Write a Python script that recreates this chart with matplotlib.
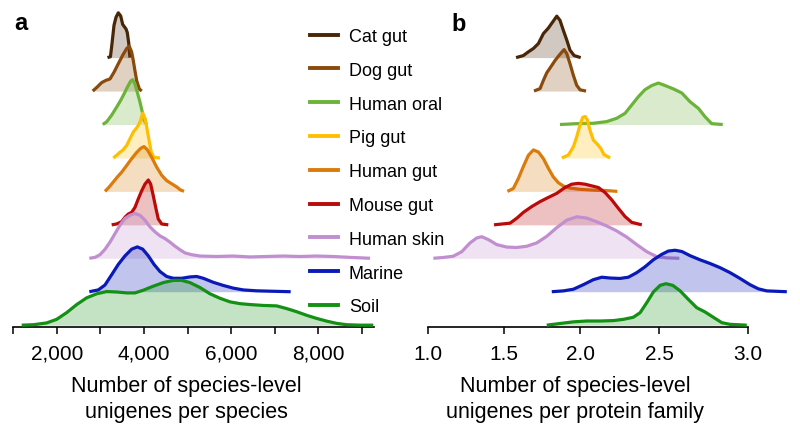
import matplotlib
matplotlib.use("Agg")
import matplotlib.pyplot as plt
import numpy as np
from matplotlib.lines import Line2D
from matplotlib.ticker import FixedLocator, FixedFormatter

plt.rcParams["font.family"] = ["Liberation Sans", "DejaVu Sans"]

# =========================
# data (ridge heights normalised to peak = 1)
# =========================
GROUPS = ["Cat gut", "Dog gut", "Human oral", "Pig gut", "Human gut",
          "Mouse gut", "Human skin", "Marine", "Soil"]
COLORS = ["#4a2608", "#8a4a0c", "#6cb33a", "#ffbf00", "#db7b0b",
          "#bb0a0a", "#c18fd0", "#0a1ab8", "#149014"]

# panel a: species-level unigenes per species
CAT_A_X = [3163, 3230, 3265, 3312, 3358, 3411, 3466, 3512, 3588, 3617, 3650, 3668, 3679]
CAT_A_Y = [0, .02, .30, .72, .90, 1.0, .93, .74, .64, .56, .33, .10, 0]
DOG_A_X = [2823, 2915, 3030, 3128, 3220, 3312, 3411, 3512, 3604, 3663, 3718, 3755, 3794, 3833, 3893, 3948]
DOG_A_Y = [0, .08, .19, .24, .27, .42, .61, .80, .95, 1.0, .87, .68, .45, .23, .05, 0]
ORAL_A_X = [3053, 3144, 3259, 3374, 3466, 3542, 3617, 3696, 3741, 3794, 3847, 3909, 3971, 4001, 4063]
ORAL_A_Y = [0, .06, .21, .39, .54, .68, .83, .97, 1.0, .90, .72, .50, .24, .10, 0]
PIG_A_X = [3296, 3374, 3450, 3512, 3604, 3679, 3756, 3847, 3909, 3971, 4031, 4077, 4123, 4168, 4230, 4368]
PIG_A_Y = [0, .06, .13, .17, .28, .43, .58, .69, .80, 1.0, .87, .61, .36, .13, .01, 0]
HGUT_A_X = [3105, 3204, 3296, 3388, 3489, 3604, 3718, 3833, 3925, 4001, 4077, 4178, 4293, 4407,
            4522, 4637, 4752, 4827, 4919]
HGUT_A_Y = [0, .10, .21, .32, .43, .58, .73, .87, .96, 1.0, .93, .76, .54, .36, .24, .17, .10, .04, 0]
MOUSE_A_X = [3259, 3374, 3489, 3565, 3640, 3718, 3794, 3870, 3948, 4024, 4100, 4154, 4214, 4276,
             4329, 4407, 4559]
MOUSE_A_Y = [0, .02, .07, .17, .24, .28, .39, .58, .76, .91, 1.0, .91, .65, .36, .13, .02, 0]
SKIN_A_X = [2745, 2876, 2991, 3105, 3220, 3335, 3450, 3565, 3679, 3794, 3909, 4024, 4139, 4254,
            4368, 4483, 4598, 4713, 4828, 4942, 5096, 5287, 5670, 6051, 6435, 6818, 7199, 7587,
            7966, 8347, 8733, 9193]
SKIN_A_Y = [0, .02, .08, .20, .36, .55, .74, .89, .96, 1.0, .96, .85, .70, .59, .50, .44, .36, .27,
            .19, .12, .08, .05, .04, .05, .03, .04, .05, .04, .05, .04, .02, 0]
MARINE_A_X = [2745, 2952, 3105, 3259, 3411, 3565, 3718, 3847, 3971, 4100, 4231, 4369, 4522, 4674,
              4867, 5057, 5211, 5362, 5592, 5822, 6051, 6281, 6588, 6970, 7369]
MARINE_A_Y = [0, .04, .15, .38, .61, .80, .95, 1.0, .95, .80, .61, .45, .34, .30, .30, .33, .34,
              .30, .21, .14, .08, .04, .02, .01, 0]
SOIL_A_X = [1193, 1459, 1767, 1996, 2226, 2456, 2685, 2915, 3144, 3374, 3604, 3794, 3985, 4214,
            4444, 4674, 4867, 5057, 5287, 5516, 5746, 5976, 6205, 6435, 6740, 7048, 7277, 7507,
            7736, 7966, 8196, 8425, 8655, 8960, 9266]
SOIL_A_Y = [0, .01, .05, .13, .28, .46, .61, .70, .75, .74, .72, .72, .78, .87, .95, 1.0, 1.0, .95,
            .84, .70, .60, .52, .48, .46, .44, .43, .37, .30, .22, .15, .09, .04, .01, 0, 0]

# panel b: species-level unigenes per protein family
CAT_B_X = [1.579, 1.627, 1.660, 1.693, 1.726, 1.759, 1.791, 1.820, 1.847, 1.868, 1.890, 1.913,
           1.934, 1.961, 2.004]
CAT_B_Y = [0, .05, .14, .22, .34, .58, .71, .86, 1.0, .90, .66, .42, .18, .05, 0]
DOG_B_X = [1.697, 1.737, 1.759, 1.781, 1.807, 1.836, 1.864, 1.890, 1.895, 1.913, 1.934, 1.956,
           1.978, 2.0, 2.038]
DOG_B_Y = [0, .06, .26, .44, .58, .74, .87, .98, 1.0, .90, .66, .38, .14, .03, 0]
ORAL_B_X = [1.868, 1.978, 2.084, 2.169, 2.232, 2.285, 2.327, 2.369, 2.411, 2.454, 2.496, 2.534,
            2.580, 2.628, 2.674, 2.721, 2.758, 2.796, 2.858]
ORAL_B_Y = [0, .02, .03, .07, .15, .27, .47, .67, .84, .94, 1.0, .94, .86, .76, .55, .39, .19, .02, 0]
PIG_B_X = [1.880, 1.923, 1.956, 1.978, 2.0, 2.017, 2.032, 2.046, 2.063, 2.084, 2.110, 2.131,
           2.152, 2.190]
PIG_B_Y = [0, .07, .27, .51, .80, .98, 1.0, .92, .67, .43, .33, .23, .08, 0]
HGUT_B_X = [1.522, 1.561, 1.594, 1.627, 1.660, 1.693, 1.726, 1.759, 1.791, 1.824, 1.857, 1.890,
            1.934, 2.0, 2.084, 2.169, 2.236]
HGUT_B_Y = [0, .07, .31, .60, .87, 1.0, .95, .79, .56, .35, .21, .13, .08, .05, .03, .02, 0]
MOUSE_B_X = [1.434, 1.485, 1.539, 1.584, 1.627, 1.682, 1.737, 1.791, 1.847, 1.901, 1.945, 1.989,
             2.032, 2.074, 2.116, 2.158, 2.201, 2.242, 2.285, 2.327, 2.391]
MOUSE_B_Y = [0, .02, .04, .16, .30, .44, .56, .66, .76, .90, .98, 1.0, .98, .94, .90, .78, .60,
             .40, .20, .06, 0]
SKIN_B_X = [1.035, 1.101, 1.166, 1.222, 1.276, 1.320, 1.353, 1.397, 1.452, 1.518, 1.584, 1.649,
            1.715, 1.781, 1.847, 1.913, 1.978, 2.042, 2.106, 2.169, 2.232, 2.296, 2.359, 2.422,
            2.485, 2.543, 2.614]
SKIN_B_Y = [0, .02, .05, .16, .37, .49, .52, .45, .33, .27, .26, .29, .37, .53, .74, .92, 1.0,
            .97, .88, .78, .66, .51, .33, .16, .04, .01, 0]
MARINE_B_X = [1.814, 1.890, 1.956, 2.021, 2.084, 2.138, 2.190, 2.253, 2.306, 2.359, 2.411, 2.464,
              2.515, 2.552, 2.590, 2.628, 2.674, 2.730, 2.787, 2.843, 2.899, 2.955, 3.011, 3.058,
              3.105, 3.218]
MARINE_B_Y = [0, .02, .06, .17, .29, .35, .33, .32, .35, .46, .60, .77, .90, .98, 1.0, .97, .87,
              .77, .68, .58, .46, .32, .17, .07, .02, 0]
SOIL_B_X = [1.781, 1.868, 1.956, 2.042, 2.127, 2.211, 2.274, 2.337, 2.380, 2.422, 2.464, 2.506,
            2.539, 2.577, 2.618, 2.665, 2.712, 2.758, 2.805, 2.853, 2.899, 2.993]
SOIL_B_Y = [0, .04, .08, .10, .10, .11, .14, .19, .30, .54, .80, .96, 1.0, .96, .83, .62, .42,
            .32, .19, .06, .02, 0]

A_TICKS = [1000, 2000, 3000, 4000, 5000, 6000, 7000, 8000, 9000]
A_TICK_LABELS = ["", "2,000", "", "4,000", "", "6,000", "", "8,000", ""]
B_TICKS = [1.0, 1.5, 2.0, 2.5, 3.0]
B_TICK_LABELS = ["1.0", "1.5", "2.0", "2.5", "3.0"]

PANEL_A = [(CAT_A_X, CAT_A_Y), (DOG_A_X, DOG_A_Y), (ORAL_A_X, ORAL_A_Y), (PIG_A_X, PIG_A_Y),
           (HGUT_A_X, HGUT_A_Y), (MOUSE_A_X, MOUSE_A_Y), (SKIN_A_X, SKIN_A_Y),
           (MARINE_A_X, MARINE_A_Y), (SOIL_A_X, SOIL_A_Y)]
PANEL_B = [(CAT_B_X, CAT_B_Y), (DOG_B_X, DOG_B_Y), (ORAL_B_X, ORAL_B_Y), (PIG_B_X, PIG_B_Y),
           (HGUT_B_X, HGUT_B_Y), (MOUSE_B_X, MOUSE_B_Y), (SKIN_B_X, SKIN_B_Y),
           (MARINE_B_X, MARINE_B_Y), (SOIL_B_X, SOIL_B_Y)]

# the published panel b axis is not evenly spaced; reproduce it with a piecewise scale
B_SCALE_VALUES = [0.5, 1.0, 1.5, 2.0, 2.5, 3.0, 3.5]
B_SCALE_POS = [-76, 0, 76, 152, 231, 320, 409]


def b_forward(v):
    return np.interp(v, B_SCALE_VALUES, B_SCALE_POS)


def b_inverse(p):
    return np.interp(p, B_SCALE_POS, B_SCALE_VALUES)


def draw_ridges(ax, series, scale):
    n = len(series)
    for i, ((xs, ys), color) in enumerate(zip(series, COLORS)):
        base = n - 1 - i
        xs = np.asarray(xs, dtype=float)
        top = base + np.asarray(ys, dtype=float) * scale
        ax.fill_between(xs, base, top, color=color, alpha=0.25, linewidth=0, zorder=2 * i + 1)
        ax.plot(xs, top, color=color, linewidth=2.3, solid_joinstyle="round",
                solid_capstyle="butt", zorder=2 * i + 2)


def style_axis(ax):
    for side in ["left", "right", "top"]:
        ax.spines[side].set_visible(False)
    ax.spines["bottom"].set_linewidth(1.2)
    ax.set_yticks([])
    ax.tick_params(axis="x", direction="out", length=5, width=1.1, pad=7.5, labelsize=15)
    ax.set_ylim(-0.04, 9.75)


fig = plt.figure(figsize=(8, 4.39), dpi=100)
ax_a = fig.add_axes([13.3 / 800, 1 - 327.5 / 439, 360.6 / 800, 327.4 / 439])
ax_b = fig.add_axes([415 / 800, 1 - 327.5 / 439, 380 / 800, 327.4 / 439])

draw_ridges(ax_a, PANEL_A, 1.34)
style_axis(ax_a)
ax_a.set_xlim(1000, 9280)
ax_a.xaxis.set_major_locator(FixedLocator(A_TICKS))
ax_a.xaxis.set_major_formatter(FixedFormatter(A_TICK_LABELS))

ax_b.set_xscale("function", functions=(b_forward, b_inverse))
draw_ridges(ax_b, PANEL_B, 1.24)
style_axis(ax_b)
ax_b.set_xlim(0.914, 3.264)
ax_b.spines["bottom"].set_bounds(1.0, 3.0)
ax_b.xaxis.set_major_locator(FixedLocator(B_TICKS))
ax_b.xaxis.set_major_formatter(FixedFormatter(B_TICK_LABELS))
ax_b.xaxis.set_minor_locator(FixedLocator([]))

fig.text(186 / 800, 1 - 376 / 439, "Number of species-level\nunigenes per species",
         ha="center", va="top", fontsize=15.5, linespacing=1.3)
fig.text(575 / 800, 1 - 376 / 439, "Number of species-level\nunigenes per protein family",
         ha="center", va="top", fontsize=15.5, linespacing=1.3)

fig.text(21 / 800, 1 - 30 / 439, "a", ha="center", va="baseline", fontsize=17, fontweight="bold")
fig.text(459 / 800, 1 - 30.7 / 439, "b", ha="center", va="baseline", fontsize=17, fontweight="bold")

handles = [Line2D([], [], color=c, linewidth=2.8) for c in COLORS]
fig.legend(handles, GROUPS, loc="upper left", bbox_to_anchor=(310 / 800, 1 - 29 / 439),
           frameon=False, fontsize=13, handlelength=1.55, handletextpad=0.6,
           labelspacing=0.93, borderpad=0, borderaxespad=0)

fig.savefig("out.png", dpi=100)
